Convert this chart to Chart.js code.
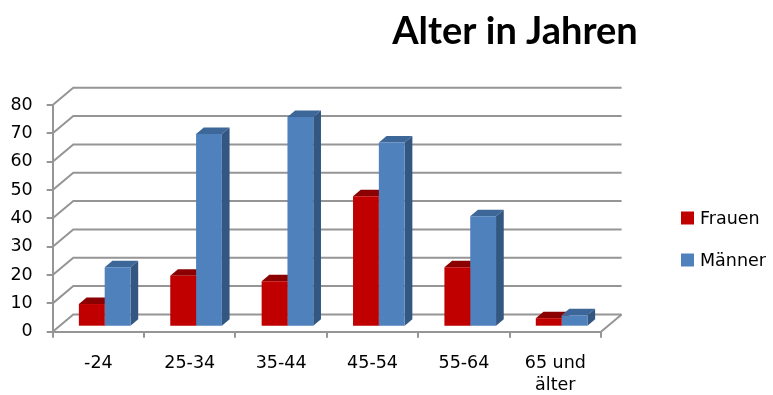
<!DOCTYPE html>
<html>
<head>
<meta charset="utf-8">
<script src="https://cdn.jsdelivr.net/npm/chart.js@4.4.1/dist/chart.umd.min.js"></script>
<style>
  html, body { margin: 0; padding: 0; background: #fff; }
  #wrap { width: 773px; height: 395px; }
</style>
</head>
<body>
<div id="wrap"><canvas id="altersChart"></canvas></div>
<script>
// Daten
const categories = ['-24', '25-34', '35-44', '45-54', '55-64', ['65 und', 'älter']];
const frauen = [8, 18, 16, 46, 21, 3];
const maenner = [21, 68, 74, 65, 39, 4];
const yMin = 0;
const yMax = 80;
const yStep = 10;

const chartTitle = 'Alter in Jahren';
const seriesNames = ['Frauen', 'Männer'];

// Farben
const frontColors = ['#c00000', '#4f81bd'];
const topColors = ['#8b0000', '#3e6799'];
const sideColors = ['#960000', '#335781'];
const gridColor = '#959595';

// 3D-Versatz
const wallDepth = { dx: 20.6, dy: -17.3 };
const barDepth = { dx: 7.7, dy: -6.5 };
const barShift = { x: 6.3, y: -5 };

const threeD = {
    id: 'threeD',
    beforeDatasetsDraw(chart) {
        const ctx = chart.ctx;
        const area = chart.chartArea;
        const yScale = chart.scales.y;

        // Wand und Boden
        ctx.save();
        ctx.strokeStyle = gridColor;
        ctx.lineWidth = 2;
        for (let v = yMin; v <= yMax; v += yStep) {
            const y = yScale.getPixelForValue(v);
            ctx.beginPath();
            ctx.moveTo(area.left, y);
            ctx.lineTo(area.left + wallDepth.dx, y + wallDepth.dy);
            ctx.lineTo(area.right + wallDepth.dx, y + wallDepth.dy);
            ctx.stroke();
        }
        const y0 = yScale.getPixelForValue(yMin);
        ctx.beginPath();
        ctx.moveTo(area.right, y0);
        ctx.lineTo(area.right + wallDepth.dx, y0 + wallDepth.dy);
        ctx.stroke();
        ctx.restore();

        // Balken: Ober- und Seitenflächen
        ctx.save();
        ctx.translate(barShift.x, barShift.y);
        chart.data.datasets.forEach((ds, i) => {
            const meta = chart.getDatasetMeta(i);
            meta.data.forEach(bar => {
                const p = bar.getProps(['x', 'y', 'base', 'width'], true);
                const l = p.x - p.width / 2;
                const r = p.x + p.width / 2;
                ctx.fillStyle = topColors[i];
                ctx.beginPath();
                ctx.moveTo(l, p.y);
                ctx.lineTo(l + barDepth.dx, p.y + barDepth.dy);
                ctx.lineTo(r + barDepth.dx, p.y + barDepth.dy);
                ctx.lineTo(r, p.y);
                ctx.closePath();
                ctx.fill();
                ctx.fillStyle = sideColors[i];
                ctx.beginPath();
                ctx.moveTo(r, p.y);
                ctx.lineTo(r + barDepth.dx, p.y + barDepth.dy);
                ctx.lineTo(r + barDepth.dx, p.base + barDepth.dy);
                ctx.lineTo(r, p.base);
                ctx.closePath();
                ctx.fill();
            });
        });
    },
    afterDatasetsDraw(chart) {
        chart.ctx.restore();
    },
    afterDraw(chart) {
        const ctx = chart.ctx;
        ctx.save();
        // Titel
        ctx.fillStyle = '#000';
        ctx.font = 'bold 38px Lato';
        ctx.textAlign = 'center';
        ctx.textBaseline = 'alphabetic';
        ctx.fillText(chartTitle, 515, 44);
        // Legende
        ctx.font = '17.5px "DejaVu Sans"';
        ctx.textAlign = 'left';
        ctx.textBaseline = 'middle';
        chart.data.datasets.forEach((ds, i) => {
            const cy = 218 + i * 42;
            ctx.fillStyle = ds.backgroundColor;
            ctx.fillRect(681, cy - 6.5, 13, 13);
            ctx.fillStyle = '#000';
            ctx.fillText(ds.label, 700, cy + 1);
        });
        ctx.restore();
    }
};

const ctx = document.getElementById('altersChart').getContext('2d');
const altersChart = new Chart(ctx, {
    type: 'bar',
    data: {
        labels: categories,
        datasets: [{
            label: seriesNames[0],
            data: frauen,
            backgroundColor: frontColors[0],
            clip: false
        }, {
            label: seriesNames[1],
            data: maenner,
            backgroundColor: frontColors[1],
            clip: false
        }]
    },
    options: {
        responsive: true,
        maintainAspectRatio: false,
        animation: false,
        categoryPercentage: 0.565,
        barPercentage: 1,
        layout: {
            padding: { top: 105, right: 172, bottom: 0, left: 0 }
        },
        plugins: {
            legend: { display: false },
            title: { display: false },
            tooltip: { enabled: false }
        },
        scales: {
            x: {
                grid: {
                    display: true,
                    drawOnChartArea: false,
                    drawTicks: true,
                    tickLength: 6,
                    color: gridColor,
                    lineWidth: 2,
                    offset: true
                },
                border: { display: true, color: gridColor, width: 2 },
                ticks: {
                    color: '#000',
                    padding: 14,
                    maxRotation: 0,
                    autoSkip: false,
                    font: { family: 'DejaVu Sans', size: 17.5, lineHeight: 1.3 }
                },
                afterFit(scale) { scale.height = 63.3; }
            },
            y: {
                min: yMin,
                max: yMax,
                grid: {
                    display: true,
                    drawOnChartArea: false,
                    drawTicks: true,
                    tickLength: 6,
                    color: gridColor,
                    lineWidth: 2
                },
                border: { display: true, color: gridColor, width: 2 },
                ticks: {
                    stepSize: yStep,
                    color: '#000',
                    padding: 14,
                    font: { family: 'DejaVu Sans', size: 17.5 }
                },
                afterFit(scale) { scale.width = 52.7; }
            }
        }
    },
    plugins: [threeD]
});
</script>
</body>
</html>
